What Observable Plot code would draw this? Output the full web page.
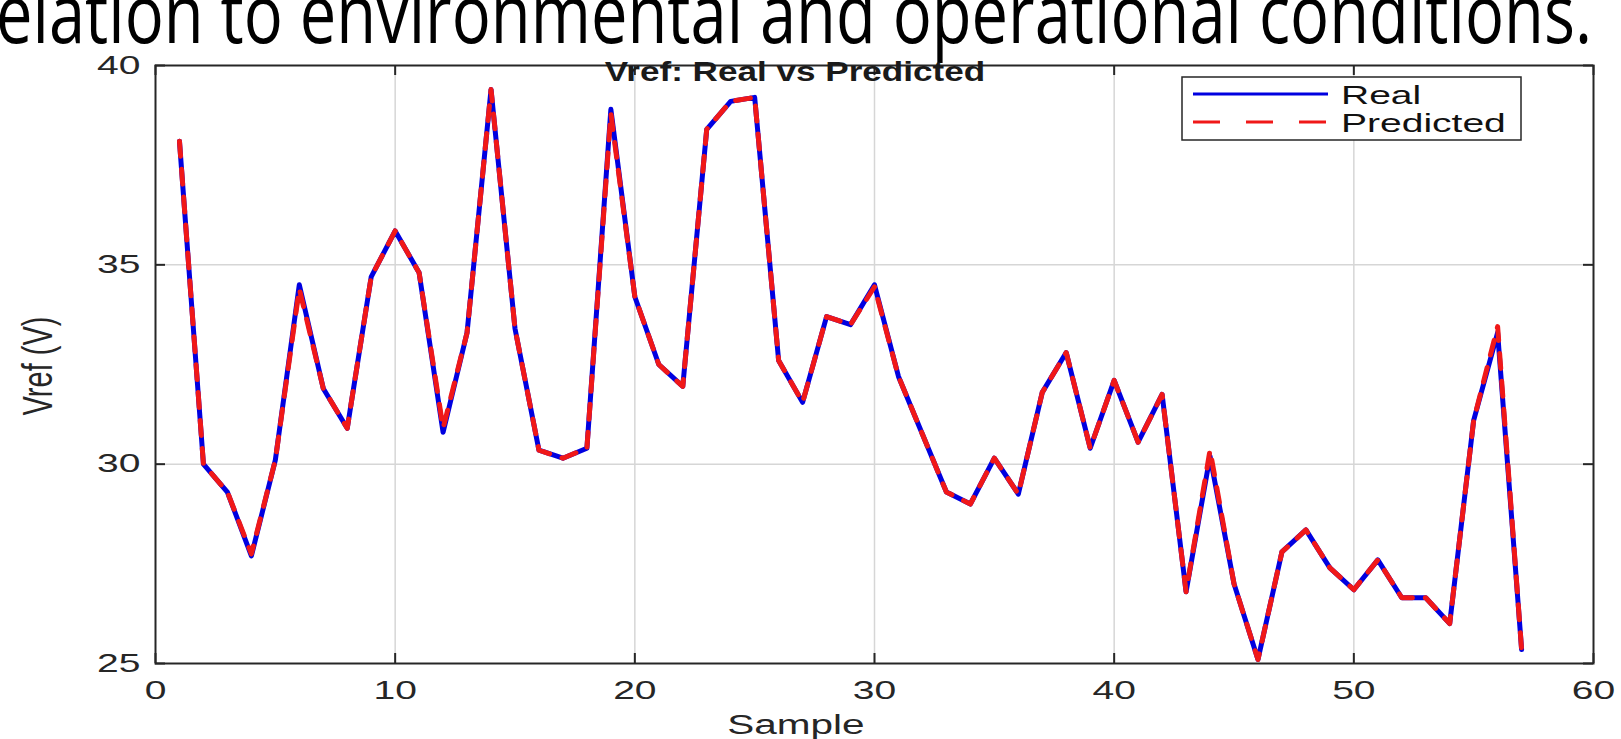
<!DOCTYPE html>
<html><head><meta charset="utf-8">
<script src="https://cdn.jsdelivr.net/npm/d3@7"></script>
<script src="https://cdn.jsdelivr.net/npm/@observablehq/plot@0.6"></script>
<style>
html,body{margin:0;padding:0;background:#fff;overflow:hidden}
#chart{position:relative;width:1621px;height:739px}
</style>
</head><body><div id="chart"></div>
<script>
// ---- data ----
const samples = [1,2,3,4,5,6,7,8,9,10,11,12,13,14,15,16,17,18,19,20,21,22,23,24,25,26,27,28,29,30,31,32,33,34,35,36,37,38,39,40,41,42,43,44,45,46,47,48,49,50,51,52,53,54,55,56,57];
const realValues = [38.1,30.0,29.3,27.7,30.1,34.5,31.9,30.9,34.7,35.85,34.8,30.8,33.3,39.4,33.4,30.35,30.15,30.4,38.9,34.2,32.5,31.95,38.4,39.1,39.2,32.6,31.55,33.7,33.5,34.5,32.2,30.75,29.3,29.0,30.15,29.25,31.8,32.8,30.4,32.1,30.55,31.75,26.8,30.2,27.0,25.1,27.8,28.35,27.4,26.85,27.6,26.65,26.65,26.0,31.1,33.3,25.35];
const predictedValues = [38.1,30.0,29.3,27.75,30.1,34.4,31.9,30.9,34.7,35.85,34.8,30.9,33.3,39.4,33.4,30.35,30.15,30.4,38.8,34.2,32.5,31.95,38.4,39.1,39.2,32.6,31.55,33.7,33.5,34.45,32.2,30.75,29.3,29.0,30.15,29.25,31.8,32.8,30.4,32.1,30.55,31.75,26.8,30.35,27.0,25.1,27.8,28.35,27.4,26.85,27.6,26.65,26.65,26.0,31.1,33.45,25.35];
const xTicks = [0,10,20,30,40,50,60];
const yTicks = [25,30,35,40];
const seriesNames = ["Real","Predicted"];
const seriesColors = ["#0000e0","#f01818"];
const titleText = "Vref: Real vs Predicted";
const xLabel = "Sample";
const yLabel = "Vref (V)";
const headingText = "elation to environmental and operational conditions.";

// ---- layout ----
const W = 1621, H = 739, mL = 155, mR = 28, mT = 65, mB = 76;
const plotH = H - mT - mB, plotW = W - mL - mR;
const ink = "#262626";

const real = samples.map((s, i) => ({sample: s, value: realValues[i]}));
const pred = samples.map((s, i) => ({sample: s, value: predictedValues[i]}));

const chart = Plot.plot({
  width: W, height: H,
  marginLeft: mL, marginRight: mR, marginTop: mT, marginBottom: mB,
  style: {fontFamily: "'Liberation Sans', Arial, sans-serif", background: "white", overflow: "visible"},
  x: {domain: [0, 60], ticks: xTicks, label: null},
  y: {domain: [25, 40], ticks: yTicks, label: null},
  marks: [
    Plot.gridX(xTicks.slice(1, -1), {stroke: "#d6d6d6", strokeOpacity: 1, strokeWidth: 1.5}),
    Plot.gridY(yTicks.slice(1, -1), {stroke: "#d6d6d6", strokeOpacity: 1, strokeWidth: 1.5}),
    Plot.tickX(xTicks, {x: d => d, insetTop: plotH - 10, stroke: ink, strokeWidth: 2}),
    Plot.tickX(xTicks, {x: d => d, insetBottom: plotH - 10, stroke: ink, strokeWidth: 2}),
    Plot.tickY(yTicks, {y: d => d, insetRight: plotW - 10, stroke: ink, strokeWidth: 2}),
    Plot.tickY(yTicks, {y: d => d, insetLeft: plotW - 10, stroke: ink, strokeWidth: 2}),
    Plot.axisX(xTicks, {tickSize: 0, tickPadding: 17, fontSize: 26, fill: ink, label: null}),
    Plot.axisY(yTicks, {tickSize: 0, tickPadding: 15, fontSize: 26, fill: ink, label: null}),
    Plot.line(real, {x: "sample", y: "value", stroke: seriesColors[0], strokeWidth: 5}),
    Plot.line(pred, {x: "sample", y: "value", stroke: seriesColors[1], strokeWidth: 5, strokeDasharray: "15,13"}),
    Plot.frame({stroke: ink, strokeWidth: 2})
  ]
});
document.getElementById("chart").appendChild(chart);

function stretch(node, f) {
  const L = node.getComputedTextLength();
  node.setAttribute("textLength", (L * f).toFixed(1));
  node.setAttribute("lengthAdjust", "spacingAndGlyphs");
}
// MATLAB figure in the slide is stretched horizontally
chart.querySelectorAll("text").forEach(t => stretch(t, 1.5));

const svg = d3.select(chart);

// slide heading (clipped at top)
svg.append("text")
  .attr("x", -4).attr("y", 43)
  .attr("text-anchor", "start")
  .attr("font-family", "'Open Sans', sans-serif")
  .attr("font-size", 82)
  .attr("fill", "#000")
  .attr("textLength", 1596).attr("lengthAdjust", "spacingAndGlyphs")
  .text(headingText);

// title
const tt = svg.append("text")
  .attr("x", 795).attr("y", 81)
  .attr("text-anchor", "middle")
  .attr("font-family", "'Liberation Sans', Arial, sans-serif")
  .attr("font-weight", "bold").attr("font-size", 27)
  .attr("fill", "#1a1a1a").text(titleText);
stretch(tt.node(), 1.3);

// x label
const xl = svg.append("text")
  .attr("x", 796).attr("y", 734)
  .attr("text-anchor", "middle")
  .attr("font-family", "'Liberation Sans', Arial, sans-serif")
  .attr("font-size", 27).attr("fill", ink).text(xLabel);
stretch(xl.node(), 1.5);

// y label (glyphs widened like the stretched slide image)
svg.append("text")
  .attr("transform", "translate(52,366) scale(1.45,1) rotate(-90)")
  .attr("text-anchor", "middle")
  .attr("font-family", "'Liberation Sans Narrow', 'Liberation Sans', sans-serif")
  .attr("font-size", 29).attr("fill", ink).text(yLabel);

// legend
const lg = svg.append("g");
lg.append("rect").attr("x", 1182).attr("y", 77).attr("width", 339).attr("height", 63)
  .attr("fill", "white").attr("stroke", ink).attr("stroke-width", 1.5);
const rowsY = [94, 122];
seriesNames.forEach((name, i) => {
  lg.append("line").attr("x1", 1193).attr("x2", 1328).attr("y1", rowsY[i]).attr("y2", rowsY[i])
    .attr("stroke", seriesColors[i]).attr("stroke-width", 3)
    .attr("stroke-dasharray", i === 1 ? "27,26" : null);
  const t = lg.append("text").attr("x", 1341).attr("y", rowsY[i] + 10)
    .attr("text-anchor", "start")
    .attr("font-family", "'Liberation Sans', Arial, sans-serif")
    .attr("font-size", 26).attr("fill", "#111").text(name);
  stretch(t.node(), 1.5);
});
</script>
</body></html>
